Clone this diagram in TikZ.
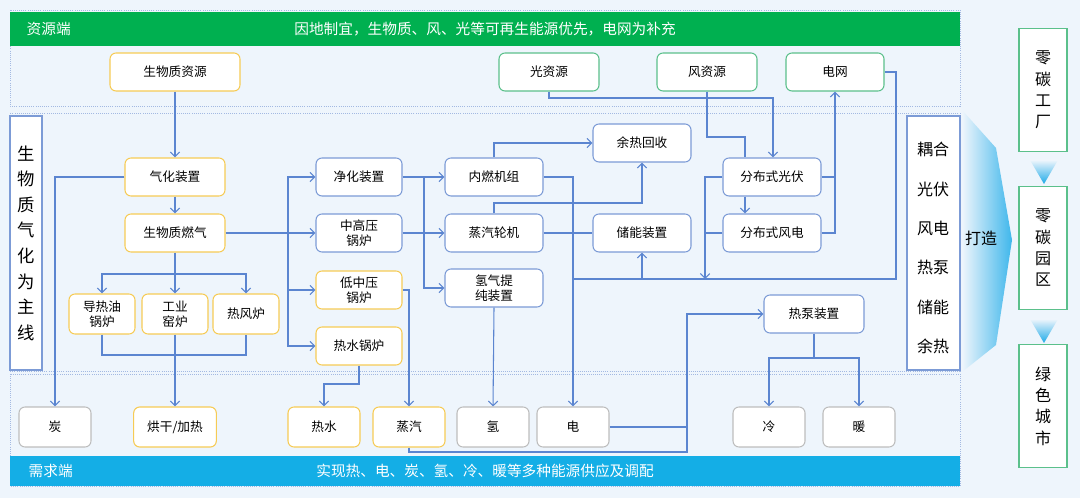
\documentclass[tikz,border=0pt]{standalone}
\usepackage{fontspec}
\setmainfont{Noto Sans CJK SC}
\usetikzlibrary{arrows.meta}
\definecolor{bg}{HTML}{EEF5FC}
\definecolor{lnc}{HTML}{5B85D0}
\definecolor{ylw}{HTML}{F6CB55}
\definecolor{blu}{HTML}{7C9BD6}
\definecolor{grn}{HTML}{5BC08B}
\definecolor{gry}{HTML}{BDBDBD}
\definecolor{bandg}{HTML}{00B050}
\definecolor{bandb}{HTML}{14AEE6}
\definecolor{cyan1}{HTML}{1DAAE8}
\begin{document}
\begin{tikzpicture}[x=0.75pt,y=-0.75pt,
  box/.style={draw, line width=0.8pt, fill=white, rounded corners=4.5pt,
    minimum height=28.5pt, align=center, font=\fontsize{9.5}{11}\selectfont,
    inner sep=1pt},
  ybox/.style={box, draw=ylw},
  bbox/.style={box, draw=blu},
  gbox/.style={box, draw=grn},
  dbox/.style={box, draw=gry, minimum height=30pt, minimum width=54pt},
  ln/.style={draw=lnc, line width=0.8pt},
  arr/.style={ln, -{Straight Barb[length=3.5pt,width=7pt]}},
  panel/.style={draw=blu!70, densely dotted, line width=0.6pt},
  vbox/.style={draw=blu, line width=0.8pt, fill=white}]
  \useasboundingbox (0,0) rectangle (1080,498);
  \fill[bg] (0,0) rectangle (1080,498);
  % panels and bands
  \draw[panel] (10,10) rectangle (960,106);
  \draw[panel] (10,113) rectangle (960,371);
  \draw[panel] (10,374) rectangle (960,486);
  \fill[bandg] (10,12) rectangle (960,46);
  \fill[bandb] (10,456) rectangle (960,486);
  \node[white, anchor=west, font=\fontsize{11}{12}\selectfont] (zyd) at (22,29) {资源端};
  \node[white, font=\fontsize{11}{12}\selectfont] (zydt) at (485,29) {因地制宜，生物质、风、光等可再生能源优先，电网为补充};
  \node[white, anchor=west, font=\fontsize{11}{12}\selectfont] (xqd) at (24,471) {需求端};
  \node[white, font=\fontsize{11}{12}\selectfont] (xqdt) at (485,471) {实现热、电、炭、氢、冷、暖等多种能源供应及调配};
  % side boxes
  \draw[vbox] (10,116) rectangle (42,370);
  \node[align=center, font=\fontsize{13}{19.2}\selectfont] (zx) at (26,243) {生\\物\\质\\气\\化\\为\\主\\线};
  \draw[vbox] (907,116) rectangle (960,370);
  \node[align=center, font=\fontsize{12}{29.5}\selectfont] (oh) at (933,248) {耦合\\光伏\\风电\\热泵\\储能\\余热};
  % big arrow and right column
  \shade[left color=bg, right color=cyan1!85] (962,110) -- (996,148) -- (1012,240) -- (996,345) -- (962,372) -- cycle;
  \node[font=\fontsize{12}{14}\selectfont] (dz0) at (981,238) {打造};
  \shade[top color=bg, bottom color=cyan1] (1030,160) -- (1058,160) -- (1044,184) -- cycle;
  \shade[top color=bg, bottom color=cyan1] (1030,319) -- (1058,319) -- (1044,343) -- cycle;
  \node[draw=grn, line width=0.8pt, fill=white, minimum width=36pt, minimum height=92pt, align=center, font=\fontsize{12}{16}\selectfont] (lc1) at (1043,90) {零\\碳\\工\\厂};
  \node[draw=grn, line width=0.8pt, fill=white, minimum width=36pt, minimum height=92pt, align=center, font=\fontsize{12}{16}\selectfont] (lc2) at (1043,248) {零\\碳\\园\\区};
  \node[draw=grn, line width=0.8pt, fill=white, minimum width=36pt, minimum height=92pt, align=center, font=\fontsize{12}{16}\selectfont] (lc3) at (1043,406) {绿\\色\\城\\市};
  % resource nodes
  \node[ybox, minimum width=97.5pt] (szy) at (175,72) {生物质资源};
  \node[gbox, minimum width=75pt] (gz) at (549,72) {光资源};
  \node[gbox, minimum width=75pt] (fz) at (707,72) {风资源};
  \node[gbox, minimum width=73.5pt] (dw) at (835,72) {电网};
  % biomass chain
  \node[ybox, minimum width=75pt] (qh) at (175,177) {气化装置};
  \node[ybox, minimum width=75pt] (rq) at (175,233) {生物质燃气};
  \node[ybox, minimum width=49.5pt, minimum height=30pt] (drl) at (102,314) {导热油\\锅炉};
  \node[ybox, minimum width=49.5pt, minimum height=30pt] (gy) at (175,314) {工业\\窑炉};
  \node[ybox, minimum width=49.5pt, minimum height=30pt] (rfl) at (246,314) {热风炉};
  \node[bbox, minimum width=64.5pt] (jh) at (359,177) {净化装置};
  \node[bbox, minimum width=64.5pt] (zg) at (359,233) {中高压\\锅炉};
  \node[ybox, minimum width=64.5pt] (dz) at (359,290) {低中压\\锅炉};
  \node[ybox, minimum width=64.5pt] (rs) at (359,346) {热水锅炉};
  \node[bbox, minimum width=73.5pt] (nr) at (494,177) {内燃机组};
  \node[bbox, minimum width=73.5pt] (qj) at (494,233) {蒸汽轮机};
  \node[bbox, minimum width=73.5pt] (qq) at (494,288) {氢气提\\纯装置};
  \node[bbox, minimum width=73.5pt] (yr) at (642,143) {余热回收};
  \node[bbox, minimum width=73.5pt] (cn) at (642,233) {储能装置};
  \node[bbox, minimum width=73.5pt] (gf) at (772,177) {分布式光伏};
  \node[bbox, minimum width=73.5pt] (fd) at (772,233) {分布式风电};
  \node[bbox, minimum width=75pt] (rb) at (814,314) {热泵装置};
  % demand nodes
  \node[dbox] (tan) at (55,427) {炭};
  \node[dbox, draw=ylw, minimum width=62pt] (hg) at (175,427) {烘干/加热};
  \node[dbox, draw=ylw] (rsw) at (324,427) {热水};
  \node[dbox, draw=ylw] (zq) at (409,427) {蒸汽};
  \node[dbox] (qing) at (493,427) {氢};
  \node[dbox] (dian) at (573,427) {电};
  \node[dbox] (leng) at (769,427) {冷};
  \node[dbox] (nuan) at (859,427) {暖};
  % connectors
  \coordinate (b1) at (175,274);
  \coordinate (c12) at (175,355);
  \coordinate (p2) at (288,233);
  \coordinate (p1) at (424,177);
  \coordinate (c1) at (642,203);
  \coordinate (c2) at (359,384);
  \coordinate (c3) at (773,98);
  \coordinate (c4) at (745,137);
  \coordinate (c6) at (705,279);
  \coordinate (c7) at (896,279);
  \coordinate (c8) at (573,279);
  \coordinate (c9) at (687,427);
  \coordinate (c10) at (687,452);
  \coordinate (c11) at (814,358);
  \draw[arr] (szy) -- (qh);
  \draw[arr] (qh) -- (rq);
  \draw[arr] (qh.west) -| (tan.north);
  \draw[ln] (rq.south) -- (b1);
  \draw[arr] (b1) -| (drl.north);
  \draw[arr] (b1) -- (gy.north);
  \draw[arr] (b1) -| (rfl.north);
  \draw[ln] (drl.south) |- (c12) -| (rfl.south);
  \draw[arr] (gy.south) -- (hg.north);
  \draw[arr] (rq.east) -- (zg.west);
  \draw[arr] (p2) |- (jh.west);
  \draw[arr] (p2) |- (dz.west);
  \draw[arr] (p2) |- (rs.west);
  \draw[arr] (jh.east) -- (nr.west);
  \draw[arr] (zg.east) -- (qj.west);
  \draw[arr] (p1) |- (qq.west);
  \draw[arr] (dz.east) -| (zq.north);
  \draw[arr] (rs.south) -- (c2) -| (rsw.north);
  \draw[arr] (qq.south) -- (qing.north);
  \draw[arr] (nr.north) |- (yr.west);
  \draw[arr] (qj.north) |- (c1) -- (yr.south);
  \draw[arr] (nr.east) -| (dian.north);
  \draw[ln] (qj.east) -- (cn.west);
  \draw[arr] (gz.south) |- (c3) -- (c3 |- gf.north);
  \draw[ln] (fz.south) |- (c4) -- (c4 |- gf.north);
  \draw[arr] (c4 |- gf.south) -- (c4 |- fd.north);
  \draw[ln] (gf.east) -- (gf.east -| dw.south);
  \draw[arr] (fd.east) -| (dw.south);
  \draw[arr] (gf.west) -| (c6);
  \draw[ln] (fd.west) -- (fd.west -| c6);
  \draw[ln] (dw.east) -| (c7) -- (c8);
  \draw[arr] (cn.south |- c8) -- (cn.south);
  \draw[ln] (dian.east) -- (c9);
  \draw[ln] (zq.south) |- (c10) -- (c9);
  \draw[arr] (c9) |- (rb.west);
  \draw[ln] (rb.south) -- (c11);
  \draw[arr] (c11) -| (leng.north);
  \draw[arr] (c11) -| (nuan.north);
\end{tikzpicture}
\end{document}
